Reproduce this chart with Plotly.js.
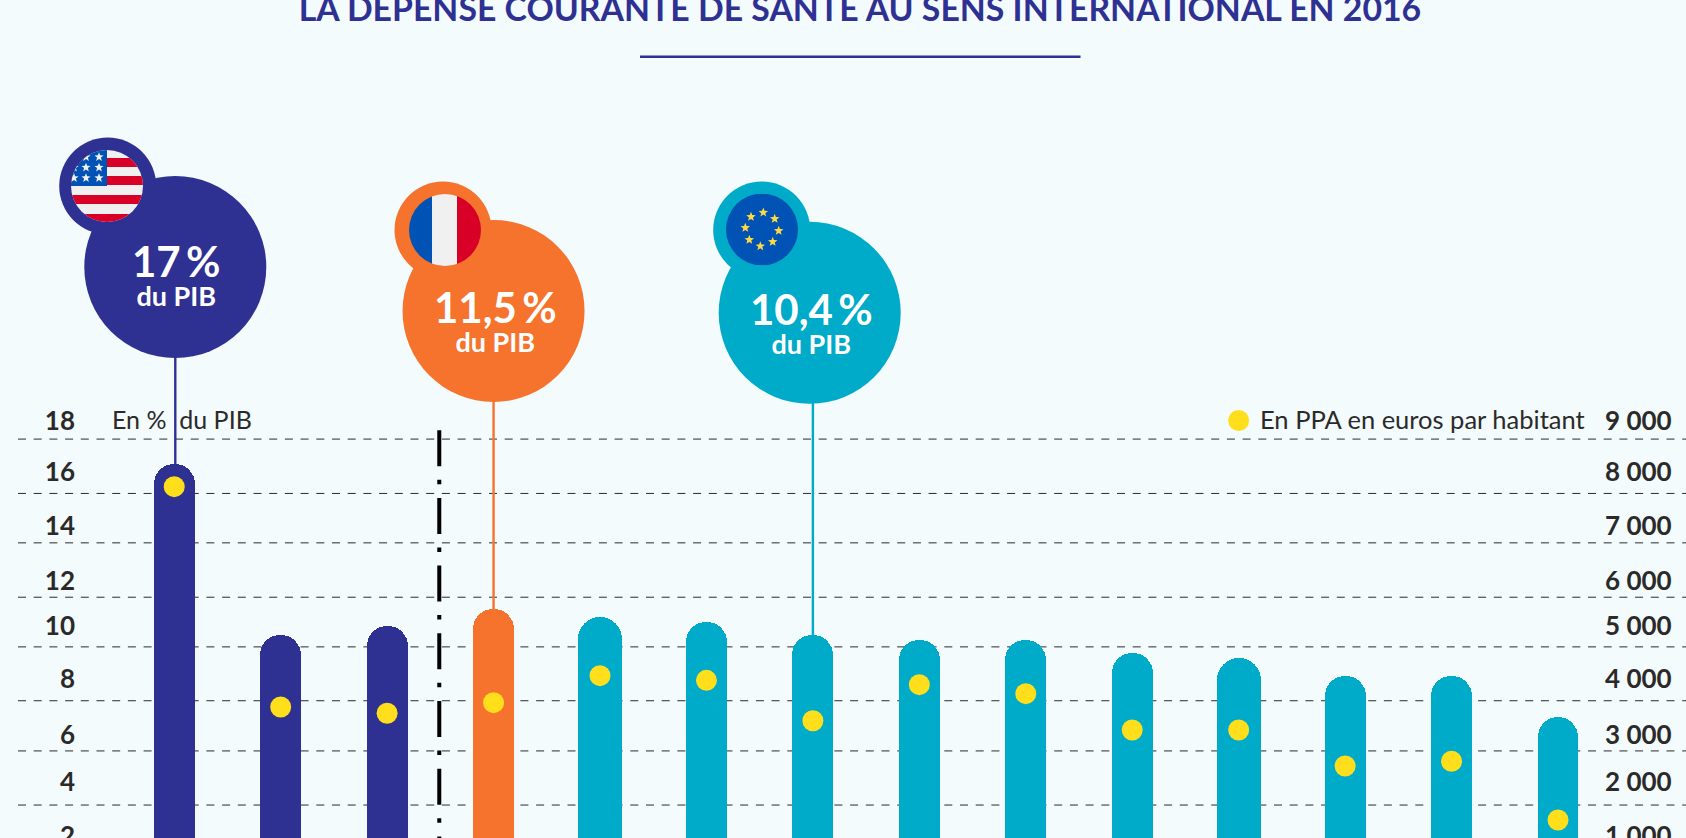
<!DOCTYPE html>
<html lang="fr">
<head>
<meta charset="utf-8">
<title>La dépense courante de santé au sens international en 2016</title>
<script src="https://cdn.plot.ly/plotly-3.0.1.min.js"></script>
<style>
html,body{margin:0;padding:0;width:1686px;height:838px;overflow:hidden;background:#f3fbfd}
#chart{width:1686px;height:838px}
</style>
</head>
<body>
<div id="chart"></div>
<script>
// ---------- Data ----------
const positions = [0,1,2,3,4,5,6,7,8,9,10,11,12,13];
const categories = ["États-Unis","Pays 2","Pays 3","France","Pays 5","Pays 6","UE","Pays 8","Pays 9","Pays 10","Pays 11","Pays 12","Pays 13","Pays 14"];
const pctGdp = [17.03,10.49,10.84,11.51,11.18,11.0,10.49,10.31,10.31,9.8,9.63,8.94,8.94,7.38];
const eurosPpa = [8089,3875,3755,3958,4474,4386,3613,4302,4130,3435,3435,2747,2837,1714];
const barWidths = [.385,.385,.385,.385,.42,.385,.385,.385,.385,.385,.415,.385,.385,.385];
const barGroups = ["navy","navy","navy","orange","teal","teal","teal","teal","teal","teal","teal","teal","teal","teal"];

const leftTicks = ["18","16","14","12","10","8","6","4","2"];
const rightTicks = ["9 000","8 000","7 000","6 000","5 000","4 000","3 000","2 000","1 000"];
const labelLevels = [18.71,16.75,14.67,12.57,10.86,8.83,6.68,4.89,2.82];
const gridLevels = [18,15.92,14.03,11.95,10.05,7.99,6.07,4.0];

const calloutLabels = ["17\u2009%","11,5\u2009%","10,4\u2009%"];
const calloutAnchors = [0,3,6];
const calloutX = [0.01,3.0,5.97];
const calloutY = [24.58,22.9,22.83];
const stemX = [0.01,3.0,6.0];
const flagBadgeX = [-0.625,2.525,5.519];
const flagBadgeY = [27.68,26.0,26.0];

const titleText = "LA DÉPENSE COURANTE DE SANTÉ AU SENS INTERNATIONAL EN 2016";

// ---------- Style ----------
const colors = {navy:"#2e3192",orange:"#f6732d",teal:"#00aac9",yellow:"#ffdf1c",bg:"#f3fbfd",ink:"#2b2a29",grid:"#2b2b2b"};
const W=1686,H=838,L=78,R=1601;
const xMin=-0.904,xMax=13.404,yMin=2.739,yMax=34.797;
const px=x=>(x-L)/(R-L);
const py=y=>1-y/H;
const tickFont={family:"Lato, sans-serif",size:26,color:colors.ink,weight:700};
const barColors=barGroups.map(g=>colors[g]);
const calloutColors=calloutAnchors.map(i=>barColors[i]);

// ---------- Traces ----------
const traces=[
 {type:"bar",x:positions,y:pctGdp,width:barWidths,marker:{color:barColors,cornerradius:"50%",line:{width:0}},
  text:categories,hoverinfo:"text+y",textposition:"none",showlegend:false,name:"En % du PIB"},
 {type:"scatter",mode:"markers",x:positions,y:eurosPpa,yaxis:"y2",marker:{color:colors.yellow,size:21,line:{width:0}},
  showlegend:false,name:"En PPA en euros par habitant",cliponaxis:false}
];
calloutAnchors.forEach((b,i)=>{
 traces.push({type:"scatter",mode:"lines",x:[stemX[i],stemX[i]],y:[pctGdp[b]-.2,calloutY[i]],
  line:{color:calloutColors[i],width:2.4},showlegend:false,hoverinfo:"skip"});
});
traces.push({type:"scatter",mode:"markers",x:calloutX,y:calloutY,marker:{size:182,color:calloutColors,line:{width:0}},
 showlegend:false,hoverinfo:"skip",cliponaxis:false});
traces.push({type:"scatter",mode:"markers",x:flagBadgeX,y:flagBadgeY,marker:{size:97,color:calloutColors,line:{width:0}},
 showlegend:false,hoverinfo:"skip",cliponaxis:false});
traces.push({type:"scatter",mode:"markers",x:[10],y:[labelLevels[0]],marker:{size:21,color:colors.yellow,line:{width:0}},
 showlegend:false,hoverinfo:"skip",cliponaxis:false});

// ---------- Flags ----------
function star(cx,cy,r,fill){
 let p=[];for(let i=0;i<10;i++){const a=-Math.PI/2+i*Math.PI/5,q=i%2?r*.42:r;p.push((cx+q*Math.cos(a)).toFixed(2)+","+(cy+q*Math.sin(a)).toFixed(2));}
 return `<polygon points="${p.join(" ")}" fill="${fill}"/>`;
}
function flagSvg(body){
 const s=`<svg xmlns="http://www.w3.org/2000/svg" width="288" height="288" viewBox="0 0 72 72"><defs><clipPath id="c"><circle cx="36" cy="36" r="36"/></clipPath></defs><g clip-path="url(#c)">${body}</g></svg>`;
 return "data:image/svg+xml;charset=utf-8,"+encodeURIComponent(s);
}
const rect=(x,y,w,h,f)=>`<rect x="${x}" y="${y}" width="${w}" height="${h}" fill="${f}"/>`;
const RED="#d80027",WHT="#f0f0f0",BLU="#0052b4",GLD="#ffda44";
let us=rect(0,0,72,72,WHT)+rect(0,8,72,9,RED)+rect(0,26,72,9,RED)+rect(0,45,72,9,RED)+rect(0,64,72,8,RED)+rect(0,0,36,36,BLU);
[3,15,28].forEach(x=>[7,17.5,28].forEach(y=>{us+=star(x,y,4.8,WHT);}));
const fr=rect(0,0,23,72,BLU)+rect(23,0,25,72,WHT)+rect(48,0,24,72,RED);
let eu=rect(0,0,72,72,BLU);
[[37.3,19],[48.7,25.3],[52.7,37.3],[46.7,48.3],[34.3,52.7],[23.3,46.3],[19.3,34.3],[25,23.3]].forEach(s=>{eu+=star(s[0],s[1],5,GLD);});
const flagCenters=[[107,186],[445,230],[762,229.5]];
const images=[us,fr,eu].map((b,i)=>({source:flagSvg(b),xref:"paper",yref:"paper",x:px(flagCenters[i][0]),y:py(flagCenters[i][1]),
 sizex:72/(R-L),sizey:72/H,xanchor:"center",yanchor:"middle",sizing:"stretch",layer:"above"}));

// ---------- Shapes ----------
const shapes=gridLevels.map(v=>({type:"line",layer:"below",xref:"paper",yref:"y",x0:px(18),x1:px(1686),y0:v,y1:v,
 line:{color:colors.grid,width:1,dash:"8px,7.7px"}}));
shapes.push({type:"line",layer:"above",xref:"x",yref:"y",x0:2.49,x1:2.49,y0:18.34,y1:yMin,
 line:{color:"#000000",width:4,dash:"36px,13.5px,4.5px,13.7px"}});
shapes.push({type:"line",layer:"above",xref:"paper",yref:"paper",x0:px(640),x1:px(1080.5),y0:py(56.7),y1:py(56.7),
 line:{color:colors.navy,width:2.6}});

// ---------- Annotations ----------
const annotations=[];
const shifts=[[1,-7],[2,-9],[2,-9]];
calloutLabels.forEach((t,i)=>{
 annotations.push({xref:"x",yref:"y",x:calloutX[i],y:calloutY[i],xshift:shifts[i][0],yshift:shifts[i][1],
  text:`<b><span style="font-size:42px">${t}</span><br><span style="font-size:27px">du PIB</span></b>`,showarrow:false,
  font:{family:"Lato, sans-serif",size:22.5,color:"#ffffff"},xanchor:"center",yanchor:"middle",align:"center"});
});
annotations.push({xref:"paper",yref:"y",x:px(110),y:labelLevels[0]+.05,text:"En %\u00a0\u00a0du PIB",showarrow:false,xanchor:"left",yanchor:"middle",
 font:{family:"Lato, sans-serif",size:25,color:colors.ink}});
annotations.push({xref:"paper",yref:"y",x:px(1258),y:labelLevels[0]+.05,text:"En PPA en euros par habitant",showarrow:false,xanchor:"left",yanchor:"middle",
 font:{family:"Lato, sans-serif",size:25.5,color:colors.ink}});

// ---------- Layout ----------
const layout={
 width:W,height:H,paper_bgcolor:colors.bg,plot_bgcolor:colors.bg,showlegend:false,
 margin:{l:L,r:W-R,t:0,b:0,pad:0},
 title:{text:"<b>"+titleText+"</b>",xref:"container",yref:"container",x:860/W,y:1-9/H,xanchor:"center",yanchor:"middle",
  font:{family:"Lato, sans-serif",size:33.8,color:colors.navy}},
 xaxis:{range:[xMin,xMax],tickvals:positions,ticktext:categories,showticklabels:false,ticks:"",showgrid:false,zeroline:false,showline:false,fixedrange:true},
 yaxis:{range:[yMin,yMax],tickvals:labelLevels,ticktext:leftTicks,showgrid:false,zeroline:false,showline:false,ticks:"",tickfont:tickFont,ticklabeloverflow:"allow",ticklabelstandoff:2,fixedrange:true},
 yaxis2:{range:[yMin*500,yMax*500],overlaying:"y",side:"right",tickvals:labelLevels.map(v=>v*500),ticktext:rightTicks,showgrid:false,zeroline:false,showline:false,ticks:"",tickfont:tickFont,ticklabeloverflow:"allow",ticklabelstandoff:3,fixedrange:true},
 shapes,images,annotations,bargap:0,hovermode:"closest"
};
Plotly.newPlot("chart",traces,layout,{displayModeBar:false,responsive:false});
</script>
</body>
</html>
